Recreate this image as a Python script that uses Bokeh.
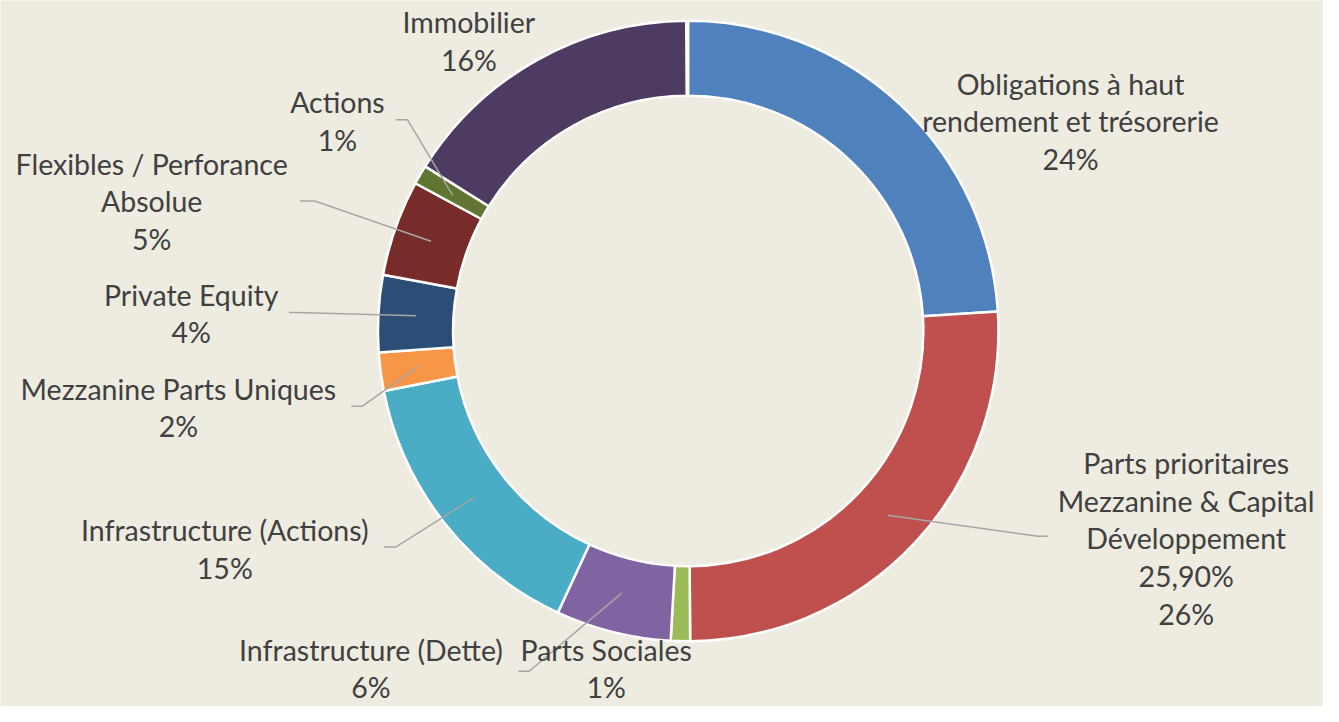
import math
from bokeh.plotting import figure
from bokeh.models import Range1d, ColumnDataSource
from bokeh.core.properties import value
from bokeh.embed import file_html
from bokeh.resources import INLINE

# ---- data ----
categories = [
    "Obligations à haut\nrendement et trésorerie",
    "Parts prioritaires\nMezzanine & Capital\nDéveloppement\n25,90%",
    "Parts Sociales",
    "Infrastructure (Dette)",
    "Infrastructure (Actions)",
    "Mezzanine Parts Uniques",
    "Private Equity",
    "Flexibles / Perforance\nAbsolue",
    "Actions",
    "Immobilier",
]
values = [24, 25.9, 1, 6, 15, 2, 4, 5, 1, 16]
colors = ["#4F81BD", "#C0504D", "#9BBB59", "#8064A2", "#4BACC6",
          "#F79646", "#2C4D75", "#772C2A", "#5F7530", "#4D3B62"]

# ---- layout (reference-pixel positions of the label blocks: centre x, first-line y) ----
label_pos = [(1083, 85), (1200, 473), (613, 664), (375, 664), (227, 542),
             (180, 397), (193, 301), (153, 167), (341, 104), (474, 22)]
# leader line label-side start and elbow (None = no leader)
leaders = [None, ((1060, 548), (1050, 548)), None, ((524, 686), (535, 686)),
           ((388, 559), (400, 559)), ((355, 415), (366, 415)),
           ((292, 319), (300, 319)), ((303, 205), (318, 205)),
           ((400, 122), (412, 122)), None]

BG = "#EEEBE0"
TXT = "#404040"
W, H = 1323, 706
REF_W, REF_H = 1339, 722
CX, CY = 696, 338
R_OUT, R_IN = 314, 238
LINE_H = 38.5
FONT = "Lato"
FSIZE = "28.5px"

p = figure(width=W, height=H, x_range=Range1d(0, REF_W), y_range=Range1d(-REF_H, 0),
           output_backend="svg", toolbar_location=None, min_border=0)
p.axis.visible = False
p.grid.visible = False
p.outline_line_color = None
p.background_fill_color = BG
p.border_fill_color = BG

total = 100.0
cum = 0.0
starts, ends, mids = [], [], []
for v in values:
    a0 = math.pi / 2 - 2 * math.pi * cum / total
    a1 = math.pi / 2 - 2 * math.pi * (cum + v) / total
    starts.append(a0)
    ends.append(a1)
    mids.append((a0 + a1) / 2)
    cum += v

src = ColumnDataSource(dict(start=starts, end=ends, color=colors))
p.annular_wedge(x=CX, y=-CY, inner_radius=R_IN, outer_radius=R_OUT,
                start_angle="start", end_angle="end", direction="clock",
                fill_color="color", line_color="white", line_width=2.5, source=src)

# leader lines
r_mid = (R_IN + R_OUT) / 2
for i, ld in enumerate(leaders):
    if ld is None:
        continue
    (sx, sy), (ex, ey) = ld
    px = CX + r_mid * math.cos(mids[i])
    py = -CY + r_mid * math.sin(mids[i])
    p.line([sx, ex, px], [-sy, -ey, py], line_color="#A6A6A6", line_width=1.5)

# labels
tx, ty, tt = [], [], []
for i, cat in enumerate(categories):
    lines = cat.split("\n") + [f"{round(values[i])}%"]
    x0, y0 = label_pos[i]
    for k, ln in enumerate(lines):
        tx.append(x0)
        ty.append(-(y0 + k * LINE_H))
        tt.append(ln)
p.text(x=tx, y=ty, text=tt, text_align="center", text_baseline="middle",
       text_font=value(FONT), text_font_size=FSIZE, text_color=TXT)

open("out.html", "w").write(file_html(p, INLINE))
